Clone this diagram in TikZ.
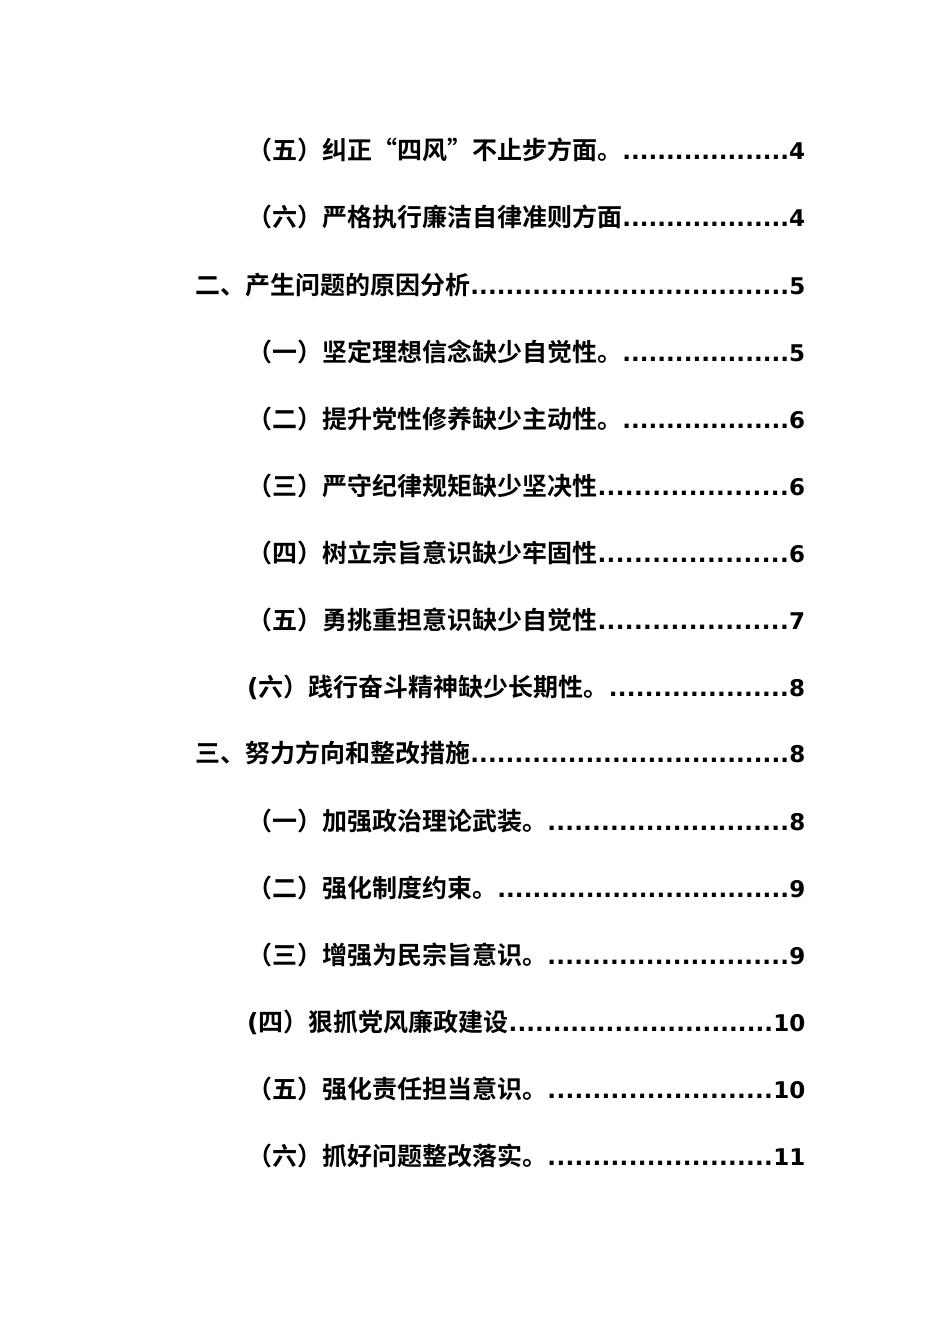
\documentclass[tikz,border=0pt]{standalone}
\usepackage{fontspec}
\newfontfamily\cjk{Noto Sans CJK SC}[BoldFont={* Bold}]
\newfontfamily\dv{DejaVu Sans}
\newcommand{\tocline}[3]{\makebox[#1][l]{{\fontsize{25}{28}\selectfont\cjk\bfseries #2}\xleaders\hbox{\dv\bfseries .}\hfill{\dv\bfseries #3}}}
\begin{document}
\begin{tikzpicture}[x=1pt,y=1pt,
  entry/.style={anchor=west,inner sep=0pt,font=\fontsize{23}{26}\selectfont}]
\useasboundingbox[fill=white] (0,0) rectangle (950,-1344);
\node[entry] (e1) at (247,-150) {\tocline{558pt}{（五）纠正“四风”不止步方面。}{4}};
\node[entry] (e2) at (247,-217) {\tocline{558pt}{（六）严格执行廉洁自律准则方面}{4}};
\node[entry] (e3) at (195,-285) {\tocline{610pt}{二、产生问题的原因分析}{5}};
\node[entry] (e4) at (247,-352) {\tocline{558pt}{（一）坚定理想信念缺少自觉性。}{5}};
\node[entry] (e5) at (247,-419) {\tocline{558pt}{（二）提升党性修养缺少主动性。}{6}};
\node[entry] (e6) at (247,-486) {\tocline{558pt}{（三）严守纪律规矩缺少坚决性}{6}};
\node[entry] (e7) at (247,-553) {\tocline{558pt}{（四）树立宗旨意识缺少牢固性}{6}};
\node[entry] (e8) at (247,-620) {\tocline{558pt}{（五）勇挑重担意识缺少自觉性}{7}};
\node[entry] (e9) at (247,-687) {\tocline{558pt}{{\dv\bfseries(}六）践行奋斗精神缺少长期性。}{8}};
\node[entry] (e10) at (195,-753) {\tocline{610pt}{三、努力方向和整改措施}{8}};
\node[entry] (e11) at (247,-821) {\tocline{558pt}{（一）加强政治理论武装。}{8}};
\node[entry] (e12) at (247,-888) {\tocline{558pt}{（二）强化制度约束。}{9}};
\node[entry] (e13) at (247,-955) {\tocline{558pt}{（三）增强为民宗旨意识。}{9}};
\node[entry] (e14) at (247,-1022) {\tocline{558pt}{{\dv\bfseries(}四）狠抓党风廉政建设}{10}};
\node[entry] (e15) at (247,-1089) {\tocline{558pt}{（五）强化责任担当意识。}{10}};
\node[entry] (e16) at (247,-1156) {\tocline{558pt}{（六）抓好问题整改落实。}{11}};
\end{tikzpicture}
\end{document}
